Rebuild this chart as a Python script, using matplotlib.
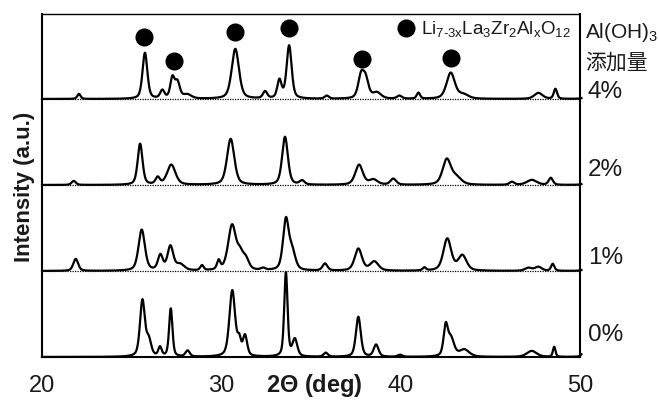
import numpy as np
import matplotlib
matplotlib.use('Agg')
import matplotlib.pyplot as plt

plt.rcParams['font.family'] = ['Liberation Sans', 'Noto Sans CJK SC', 'DejaVu Sans']
plt.rcParams['mathtext.fontset'] = 'custom'
plt.rcParams['mathtext.rm'] = 'Liberation Sans'
plt.rcParams['mathtext.it'] = 'Liberation Sans'
plt.rcParams['mathtext.bf'] = 'Liberation Sans:bold'

# --- DATA: peaks (position deg, height, FWHM deg) ---
labels = ['0%', '1%', '2%', '4%']

p0_pos = [25.6, 25.95, 26.58, 27.18, 28.12, 30.61, 31.0, 31.32, 33.6, 34.1, 35.82,
          37.64, 38.63, 39.97, 42.51, 42.8, 43.55, 47.31, 48.56, 50.3]
p0_h = [56, 16, 9, 48, 6, 66, 14, 20, 84, 17, 4, 40, 12, 2, 29, 18, 7, 6, 10, 10]
p0_w = [0.32, 0.32, 0.22, 0.22, 0.28, 0.38, 0.22, 0.28, 0.22, 0.32, 0.28, 0.32, 0.32, 0.3,
        0.28, 0.42, 0.65, 0.65, 0.17, 0.3]

p1_pos = [21.88, 25.56, 26.6, 27.16, 27.7, 28.92, 29.85, 30.6, 31.04, 31.35, 32.33,
          33.6, 33.95, 35.78, 37.64, 38.53, 41.32, 42.6, 43.44, 47.12, 47.68, 48.48, 50.4]
p1_h = [12, 41, 15, 24, 6, 5, 9, 45, 13, 11, 2, 50, 18, 7, 22, 9, 3, 32, 15, 3, 4, 7, 8]
p1_w = [0.32, 0.42, 0.32, 0.38, 0.55, 0.22, 0.22, 0.52, 0.38, 0.42, 0.3, 0.38, 0.42, 0.32,
        0.48, 0.55, 0.22, 0.52, 0.55, 0.45, 0.45, 0.22, 0.3]

p2_pos = [21.77, 25.47, 26.45, 27.21, 30.52, 33.55, 34.5, 37.68, 38.48, 39.59, 42.57,
          43.1, 46.2, 47.31, 48.37, 50.4]
p2_h = [4, 41, 7, 20, 46, 48, 4, 20, 5, 6, 25, 7, 3, 5, 7, 8]
p2_w = [0.28, 0.32, 0.28, 0.55, 0.48, 0.38, 0.32, 0.5, 0.55, 0.38, 0.55, 0.65, 0.32, 0.65, 0.28, 0.3]

p4_pos = [22.06, 25.74, 26.71, 27.27, 27.55, 28.1, 30.78, 32.44, 33.24, 33.78, 35.88,
          37.79, 38.05, 38.67, 39.93, 40.99, 42.79, 43.5, 47.68, 48.63, 50.4]
p4_h = [5, 46, 8, 20, 16, 4, 50, 7, 18, 53, 3, 22, 18, 6, 3, 6, 26, 4, 6, 10, 8]
p4_w = [0.22, 0.32, 0.28, 0.28, 0.32, 0.55, 0.48, 0.28, 0.28, 0.33, 0.28, 0.38, 0.38, 0.55,
        0.32, 0.22, 0.55, 0.65, 0.55, 0.22, 0.3]

# filled circles marking the LLZO peaks (deg, height)
mark_x = [25.69, 27.35, 30.76, 33.79, 37.83, 42.81]
mark_y = [320, 296, 325, 329, 298, 299]

offsets = [0, 86, 172, 258]
xticks = [20, 30, 40, 50]


def pattern(x, pos, h, w, eta=0.45):
    y = np.zeros_like(x)
    for p, a, fw in zip(pos, h, w):
        g = np.exp(-4 * np.log(2) * ((x - p) / fw) ** 2)
        lo = 1.0 / (1 + 4 * ((x - p) / fw) ** 2)
        y += a * (eta * lo + (1 - eta) * g)
    return y


x = np.linspace(20, 50.08, 3000)
peaks = [(p0_pos, p0_h, p0_w), (p1_pos, p1_h, p1_w),
         (p2_pos, p2_h, p2_w), (p4_pos, p4_h, p4_w)]

fig = plt.figure(figsize=(6.59, 4.02), dpi=100)
ax = fig.add_axes([42 / 659, 44 / 402, 538 / 659, 343 / 402])

for (pos, h, w), off in zip(peaks, offsets):
    ax.plot(x, pattern(x, pos, h, w) + off, color='black', lw=1.6, clip_on=False, zorder=3)
    if off > 0:
        ax.axhline(off, color='black', lw=0.9, ls=(0, (1, 1)), zorder=2)

ax.plot(mark_x, mark_y, 'o', color='black', ms=12, ls='none')
ax.plot([40.3], [329], 'o', color='black', ms=12)
ax.text(41.15, 329, r'Li$_{\mathrm{7\text{-}3x}}$La$_{\mathrm{3}}$Zr$_{\mathrm{2}}$Al$_{\mathrm{x}}$O$_{\mathrm{12}}$',
        fontsize=13.5, va='center', ha='left', color='#1a1a1a')

ax.set_xlim(20, 50)
ax.set_ylim(0, 343)
ax.set_xticks(xticks)
ax.set_yticks([])
ax.tick_params(axis='x', length=0, pad=12, labelsize=17, labelcolor='#1a1a1a')
for s in ['left', 'right', 'bottom']:
    ax.spines[s].set_linewidth(1.5)
ax.spines['top'].set_linestyle((0, (1, 1)))
ax.spines['top'].set_linewidth(1.0)

fig.text(314 / 659, 1 - 386 / 402, r'2$\mathbf{\Theta}$ (deg)', fontsize=17, fontweight='bold',
         ha='center', va='center', color='#1a1a1a')
ax.set_ylabel('Intensity (a.u.)', fontsize=16, fontweight='bold', labelpad=5, color='#1a1a1a')

rx = 585 / 659
fig.text(rx, 1 - 33 / 402, r'Al(OH)$_{\mathrm{3}}$', fontsize=15, va='center', color='#1a1a1a')
fig.text(rx, 1 - 63 / 402, '添加量', fontsize=15, va='center', color='#1a1a1a')
label_y = [335, 258, 170, 92]
for lab, yy in zip(labels, label_y):
    fig.text(588 / 659, 1 - yy / 402, lab, fontsize=17.5, va='center', color='#1a1a1a')

fig.savefig('out.png', dpi=100)
